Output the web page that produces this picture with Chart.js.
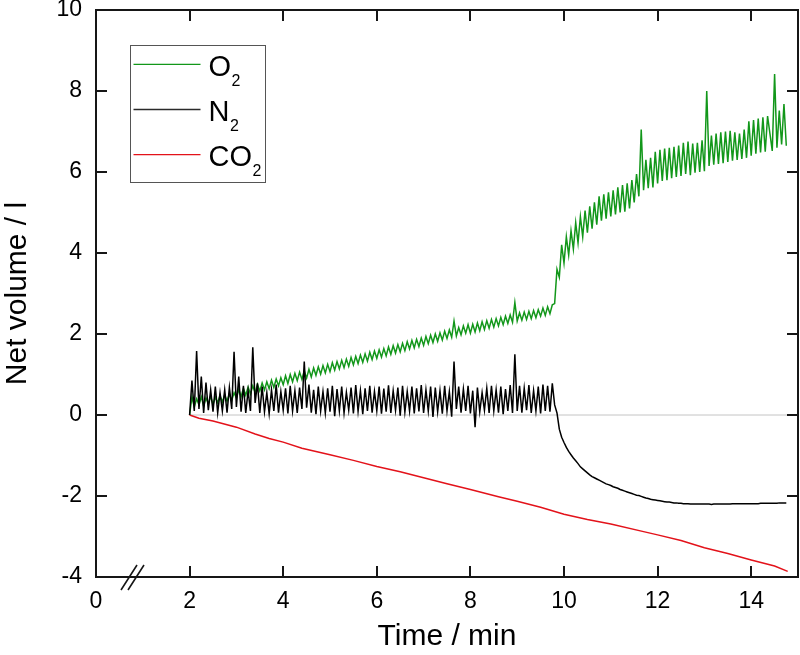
<!DOCTYPE html>
<html><head><meta charset="utf-8">
<script src="https://cdn.jsdelivr.net/npm/chart.js@4.4.1/dist/chart.umd.min.js"></script>
<style>html,body{margin:0;padding:0;background:#fff}canvas{display:block}</style>
</head><body>
<canvas id="c" width="800" height="655"></canvas>
<script>
const FONT = "'Liberation Sans', Arial, Helvetica, sans-serif";
const seriesLabels = ['O₂', 'N₂', 'CO₂'];
const xTickValues = [0, 2, 4, 6, 8, 10, 12, 14];
const yTickValues = [-4, -2, 0, 2, 4, 6, 8, 10];
const xTitle = 'Time / min';
const yTitle = 'Net volume / l';

const gridTimes = [
2.00,2.05,2.10,2.15,2.20,2.25,2.30,2.35,2.40,2.45,2.50,2.55,2.60,2.65,2.70,2.75,2.80,2.85,2.90,2.95,
3.00,3.05,3.10,3.15,3.20,3.25,3.30,3.35,3.40,3.45,3.50,3.55,3.60,3.65,3.70,3.75,3.80,3.85,3.90,3.95,
4.00,4.05,4.10,4.15,4.20,4.25,4.30,4.35,4.40,4.45,4.50,4.55,4.60,4.65,4.70,4.75,4.80,4.85,4.90,4.95,
5.00,5.05,5.10,5.15,5.20,5.25,5.30,5.35,5.40,5.45,5.50,5.55,5.60,5.65,5.70,5.75,5.80,5.85,5.90,5.95,
6.00,6.05,6.10,6.15,6.20,6.25,6.30,6.35,6.40,6.45,6.50,6.55,6.60,6.65,6.70,6.75,6.80,6.85,6.90,6.95,
7.00,7.05,7.10,7.15,7.20,7.25,7.30,7.35,7.40,7.45,7.50,7.55,7.60,7.65,7.70,7.75,7.80,7.85,7.90,7.95,
8.00,8.05,8.10,8.15,8.20,8.25,8.30,8.35,8.40,8.45,8.50,8.55,8.60,8.65,8.70,8.75,8.80,8.85,8.90,8.95,
9.00,9.05,9.10,9.15,9.20,9.25,9.30,9.35,9.40,9.45,9.50,9.55,9.60,9.65,9.70,9.75,9.80,9.85,9.90,9.95,
10.00,10.05,10.10,10.15,10.20,10.25,10.30,10.35,10.40,10.45,10.50,10.55,10.60,10.65,10.70,10.75,10.80,10.85,10.90,10.95,
11.00,11.05,11.10,11.15,11.20,11.25,11.30,11.35,11.40,11.45,11.50,11.55,11.60,11.65,11.70,11.75,11.80,11.85,11.90,11.95,
12.00,12.05,12.10,12.15,12.20,12.25,12.30,12.35,12.40,12.45,12.50,12.55,12.60,12.65,12.70,12.75,12.80,12.85,12.90,12.95,
13.00,13.05,13.10,13.15,13.20,13.25,13.30,13.35,13.40,13.45,13.50,13.55,13.60,13.65,13.70,13.75,13.80,13.85,13.90,13.95,
14.00,14.05,14.10,14.15,14.20,14.25,14.30,14.35,14.40,14.45,14.50,14.55,14.60,14.65,14.70,14.75
];

const o2Values = [
0.00,0.45,0.20,0.40,0.25,0.45,0.22,0.42,0.28,0.46,0.26,0.44,0.30,0.48,0.32,0.50,0.34,0.52,0.36,0.55,
0.42,0.63,0.45,0.66,0.49,0.69,0.52,0.72,0.55,0.76,0.59,0.79,0.62,0.82,0.65,0.86,0.68,0.89,0.72,0.92,
0.75,0.97,0.78,1.00,0.82,1.03,0.85,1.06,0.88,1.09,0.91,1.13,0.94,1.16,0.98,1.19,1.01,1.22,1.04,1.25,
1.07,1.29,1.11,1.32,1.14,1.35,1.17,1.38,1.20,1.42,1.24,1.45,1.27,1.48,1.30,1.51,1.33,1.55,1.37,1.58,
1.40,1.61,1.43,1.64,1.46,1.68,1.50,1.71,1.53,1.74,1.56,1.77,1.59,1.81,1.63,1.84,1.66,1.87,1.69,1.90,
1.72,1.94,1.76,1.97,1.79,2.00,1.82,2.03,1.85,2.07,1.89,2.10,1.92,2.32,1.95,2.16,1.98,2.20,2.02,2.23,
2.02,2.24,2.05,2.27,2.08,2.30,2.11,2.33,2.14,2.36,2.17,2.38,2.20,2.41,2.23,2.44,2.26,2.47,2.29,2.78,
2.32,2.52,2.34,2.54,2.36,2.56,2.38,2.58,2.40,2.60,2.44,2.64,2.46,2.67,2.50,2.72,2.75,3.60,3.40,4.20,
3.75,4.40,3.95,4.55,4.10,4.75,4.25,4.90,4.40,5.05,4.50,5.15,4.60,5.25,4.70,5.40,4.80,5.45,4.85,5.50,
4.90,5.55,4.95,5.62,5.00,5.68,5.02,5.72,5.10,5.80,5.25,5.95,5.40,7.05,5.55,6.30,5.60,6.35,5.62,6.50,
5.72,6.55,5.78,6.58,5.80,6.60,5.85,6.62,5.88,6.65,5.90,6.72,5.95,6.75,5.92,6.70,5.98,6.72,6.00,6.78,
6.02,8.00,6.15,6.90,6.18,6.95,6.20,6.98,6.22,7.00,6.25,7.02,6.28,6.98,6.30,6.95,6.32,7.05,6.35,7.25,
6.40,7.28,6.45,7.32,6.48,7.35,6.50,7.38,6.95,6.52,8.42,6.60,7.52,6.68,7.68,6.65
];

const n2Values = [
0.00,0.85,0.10,1.58,0.15,0.95,0.05,0.80,0.12,0.62,0.08,0.70,0.05,0.55,0.10,0.62,0.06,0.68,0.15,1.56,
0.20,0.95,0.08,0.72,0.05,0.60,0.10,1.67,0.30,0.78,0.05,0.70,0.08,0.55,0.03,0.62,0.10,0.75,0.06,0.58,
0.12,0.66,0.04,0.72,0.10,0.60,0.05,0.68,0.15,1.32,0.18,0.75,0.06,0.62,0.02,0.70,0.10,0.58,0.05,0.66,
0.08,0.72,-0.03,0.64,0.10,0.70,0.05,0.56,0.12,0.68,0.04,0.74,0.09,0.60,0.02,0.66,0.10,0.72,0.06,0.58,
0.11,0.70,0.03,0.65,0.08,0.73,0.05,0.60,0.12,0.68,-0.02,0.72,0.07,0.58,0.10,0.70,0.04,0.66,0.09,0.74,
0.05,0.62,0.10,0.70,-0.05,0.68,0.08,0.60,0.03,0.72,0.10,0.58,-0.04,1.32,0.15,0.70,0.06,0.64,0.10,0.72,
0.04,0.60,-0.30,0.68,0.08,0.55,0.12,0.66,0.05,0.72,0.10,0.62,0.06,0.70,0.02,0.64,0.10,0.74,0.05,1.50,
0.10,0.72,0.06,0.66,0.12,0.74,0.05,0.60,0.10,0.70,0.04,0.75,0.10,0.72,0.08,0.78,0.25,0.05,-0.35,-0.55,
-0.68,-0.80,-0.90,-0.98,-1.06,-1.13,-1.20,-1.28,-1.33,-1.38,-1.43,-1.48,-1.52,-1.55,-1.58,-1.61,-1.64,-1.67,-1.70,-1.72,
-1.74,-1.77,-1.79,-1.81,-1.84,-1.86,-1.88,-1.90,-1.92,-1.94,-1.96,-1.98,-1.99,-2.01,-2.03,-2.05,-2.06,-2.08,-2.09,-2.10,
-2.11,-2.12,-2.13,-2.14,-2.15,-2.15,-2.16,-2.17,-2.17,-2.18,-2.18,-2.19,-2.19,-2.19,-2.20,-2.20,-2.20,-2.20,-2.20,-2.20,
-2.20,-2.20,-2.20,-2.21,-2.20,-2.20,-2.20,-2.20,-2.20,-2.20,-2.20,-2.20,-2.19,-2.19,-2.19,-2.19,-2.19,-2.19,-2.19,-2.19,
-2.19,-2.19,-2.19,-2.19,-2.18,-2.18,-2.18,-2.18,-2.18,-2.18,-2.18,-2.18,-2.17,-2.17,-2.17,-2.17
];

const co2Times = [2.0,2.2,2.5,3.0,3.4,3.7,4.0,4.4,5.0,5.5,6.0,6.5,7.0,7.5,8.0,8.6,9.0,9.5,10.0,10.5,11.0,11.7,12.0,12.5,13.0,13.5,14.0,14.5,14.78];
const co2Values = [0,-0.08,-0.15,-0.30,-0.47,-0.58,-0.67,-0.82,-0.98,-1.12,-1.27,-1.40,-1.55,-1.70,-1.84,-2.02,-2.13,-2.28,-2.45,-2.58,-2.69,-2.88,-2.96,-3.10,-3.28,-3.42,-3.58,-3.73,-3.86];

const zeroTimes = [2, 15];
const zeroValues = [0, 0];
const axisBreakAt = 0.78;

const COLORS = { o2: '#12971a', n2: '#000000', co2: '#e3121a', zero: '#c4c4c4', axis: '#161616' };
const LEGEND_COLORS = [COLORS.o2, '#2a2a2a', COLORS.co2];

function pts(xs, ys) { return xs.map((x, i) => ({ x: x, y: ys[i] })); }

function drawChem(ctx, label, x, baseline) {
  let cx = x;
  let buf = '';
  const flush = () => {
    if (!buf) return;
    ctx.font = '29px ' + FONT;
    ctx.fillText(buf, cx, baseline);
    cx += ctx.measureText(buf).width;
    buf = '';
  };
  for (const ch of label) {
    if (ch === '₂') {
      flush();
      ctx.font = '16px ' + FONT;
      ctx.fillText('2', cx + 0.5, baseline + 10);
      cx += ctx.measureText('2').width;
    } else buf += ch;
  }
  flush();
}

const framePlugin = {
  id: 'frame',
  afterDraw(chart) {
    const ctx = chart.ctx;
    const ca = chart.chartArea;
    const xs = chart.scales.x, ys = chart.scales.y;
    ctx.save();
    ctx.strokeStyle = COLORS.axis;
    ctx.lineWidth = 2;
    ctx.lineCap = 'butt';
    ctx.strokeRect(ca.left, ca.top, ca.right - ca.left, ca.bottom - ca.top);
    const tl = 11;
    ctx.beginPath();
    xTickValues.forEach(v => {
      const px = Math.round(xs.getPixelForValue(v));
      if (px <= ca.left + 1) return;
      ctx.moveTo(px, ca.bottom); ctx.lineTo(px, ca.bottom - tl);
      ctx.moveTo(px, ca.top); ctx.lineTo(px, ca.top + tl);
    });
    yTickValues.forEach(v => {
      const py = Math.round(ys.getPixelForValue(v));
      if (py >= ca.bottom - 1 || py <= ca.top + 1) return;
      ctx.moveTo(ca.left, py); ctx.lineTo(ca.left + tl, py);
      ctx.moveTo(ca.right, py); ctx.lineTo(ca.right - tl, py);
    });
    ctx.stroke();
    // axis break marks
    const bx = xs.getPixelForValue(axisBreakAt);
    const by = ca.bottom;
    ctx.lineWidth = 1.6;
    ctx.beginPath();
    [-3.5, 3.5].forEach(o => {
      ctx.moveTo(bx + o - 8, by + 13);
      ctx.lineTo(bx + o + 8, by - 12);
    });
    ctx.stroke();
    // legend
    const lx = ca.left + 34.5, ly = ca.top + 35.5;
    ctx.lineWidth = 1;
    ctx.strokeStyle = '#555';
    ctx.strokeRect(lx, ly, 135, 137);
    ctx.fillStyle = '#000';
    ctx.textBaseline = 'alphabetic';
    ctx.textAlign = 'left';
    seriesLabels.forEach((lab, i) => {
      const yy = ca.top + 54.3 + i * 45.2;
      ctx.strokeStyle = LEGEND_COLORS[i];
      ctx.lineWidth = 1.3;
      ctx.beginPath();
      ctx.moveTo(lx + 3, yy); ctx.lineTo(lx + 70, yy);
      ctx.stroke();
      drawChem(ctx, lab, lx + 78, yy + 11.5);
    });
    ctx.restore();
  }
};

new Chart(document.getElementById('c'), {
  type: 'line',
  data: {
    datasets: [
      { label: seriesLabels[0], data: pts(gridTimes, o2Values), borderColor: COLORS.o2, order: 1 },
      { label: seriesLabels[1], data: pts(gridTimes, n2Values), borderColor: COLORS.n2, order: 0 },
      { label: seriesLabels[2], data: pts(co2Times, co2Values), borderColor: COLORS.co2, order: 1 },
      { label: 'zero', data: pts(zeroTimes, zeroValues), borderColor: COLORS.zero, borderWidth: 1, order: 3 }
    ]
  },
  options: {
    responsive: false,
    animation: false,
    layout: { padding: { left: 0, right: 2, top: 10, bottom: 0 } },
    plugins: { legend: { display: false }, tooltip: { enabled: false } },
    elements: { point: { radius: 0 }, line: { tension: 0, borderWidth: 1.5, fill: false } },
    scales: {
      x: {
        type: 'linear', min: 0, max: 15,
        afterBuildTicks(s) { s.ticks = xTickValues.map(v => ({ value: v })); },
        afterFit(s) { s.height = 78; s.paddingLeft = 0; s.paddingRight = 0; },
        grid: { display: false, drawTicks: false },
        border: { display: false },
        ticks: { color: '#000', font: { family: FONT, size: 23 }, padding: 11, maxRotation: 0, autoSkip: false },
        title: { display: true, text: xTitle, color: '#000', font: { family: FONT, size: 30 }, padding: { top: 0, bottom: 0 } }
      },
      y: {
        type: 'linear', min: -4, max: 10,
        afterBuildTicks(s) { s.ticks = yTickValues.map(v => ({ value: v })); },
        afterFit(s) { s.width = 96; s.paddingTop = 0; s.paddingBottom = 0; },
        grid: { display: false, drawTicks: false },
        border: { display: false },
        ticks: { color: '#000', font: { family: FONT, size: 23 }, padding: 14 },
        title: { display: true, text: yTitle, color: '#000', font: { family: FONT, size: 30 }, padding: { top: 0, bottom: 0 } }
      }
    }
  },
  plugins: [framePlugin]
});
</script>
</body></html>
